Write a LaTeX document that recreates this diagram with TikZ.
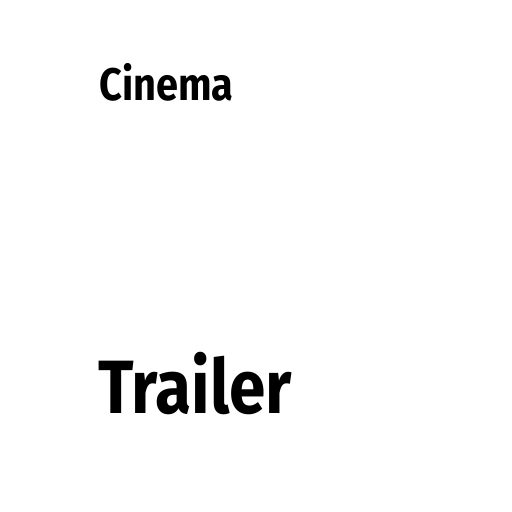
\documentclass[tikz,border=0pt]{standalone}
\usepackage{fontspec}
\setmainfont{Fira Sans}
\begin{document}
\begin{tikzpicture}[x=0.02cm,y=0.02cm]
			\tikzstyle{title_text}= [anchor=base west,inner sep=0pt,xscale=0.87,transform shape,font=\fontsize{26}{30}\selectfont\bfseries]
			\tikzstyle{big_text}= [anchor=base west,inner sep=0pt,xscale=0.87,transform shape,font=\fontsize{43}{50}\selectfont\bfseries]
			\useasboundingbox [fill=white] (0,0) rectangle (512,512);
			\node [title_text] (cinema) at (99,412) {Cinema};
			\node [big_text] (trailer) at (98,99) {Trailer};
		\end{tikzpicture}
\end{document}
